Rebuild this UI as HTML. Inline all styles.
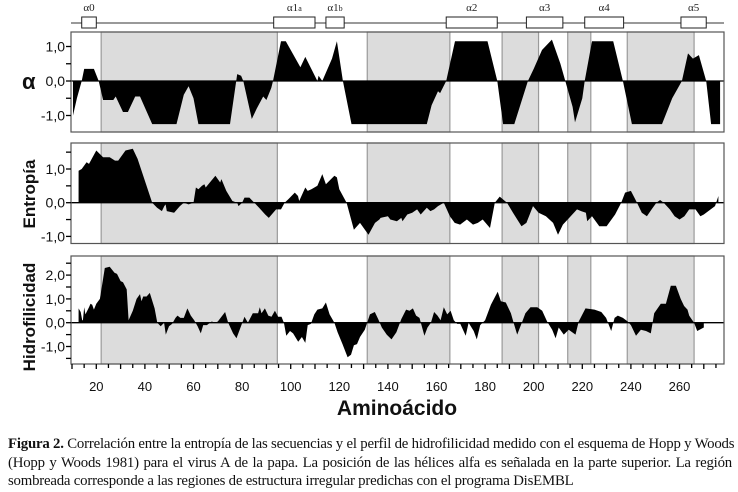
<!DOCTYPE html>
<html><head><meta charset="utf-8"><style>
body{margin:0;background:#fff;width:738px;height:492px;overflow:hidden}
#cap{position:absolute;left:8px;top:435px;width:724px;font:14.8px/18.5px "Liberation Serif",serif;color:#111;letter-spacing:-0.2px}
#cap .j{display:block;text-align:justify;text-align-last:justify;white-space:nowrap}
#cap .l{display:block;white-space:nowrap}
</style></head><body>
<svg id="chart" width="738" height="430" style="position:absolute;left:0;top:0" font-family="Liberation Sans, sans-serif"></svg>
<div id="cap"><span class="j"><b>Figura 2.</b> Correlación entre la entropía de las secuencias y el perfil de hidrofilicidad medido con el esquema de Hopp y Woods</span><span class="j">(Hopp y Woods 1981) para el virus A de la papa. La posición de las hélices alfa es señalada en la parte superior. La región</span><span class="l">sombreada corresponde a las regiones de estructura irregular predichas con el programa DisEMBL</span></div>
<script>
const xTicks=[20,40,60,80,100,120,140,160,180,200,220,240,260];
const shadedStart=[22,131.5,187,214,238.5];
const shadedEnd=[94.5,165.5,202,223.5,266];
const helixNames=["α0","α1a","α1b","α2","α3","α4","α5"];
const helixStart=[14,93,114.5,164,197,221,260.6];
const helixEnd=[20,110,122,185,212,237,271];
const alphaAA=[10.4,12,14,15,19,21,22.8,27,28,31,33,36,38,43,53,56,58,60,62,75,78,79.6,80.5,84,86,88.7,90,92,92.7,96,98,104,106,111,111.5,113,117,119,121.5,125,156,158,160.6,161.5,164,167.6,181,185,187.4,192,197.6,200,203.4,207.5,211,213,216,217,220,221,224,232.7,236.7,240.4,252.8,257,261,263.5,265.5,268,271,273,276.7];
const alphaVal=[-1.0,-0.5,0,0.35,0.35,0,-0.55,-0.55,-0.45,-0.9,-0.9,-0.45,-0.45,-1.25,-1.25,-0.4,-0.15,-0.5,-1.25,-1.25,0.2,0.15,0,-1.1,-0.8,-0.45,-0.55,-0.2,0,1.15,1.15,0.4,0.7,0,0.15,0,0.65,1.15,0,-1.25,-1.25,-0.7,-0.3,-0.35,0,1.15,1.15,0,-1.25,-1.25,0,0.35,0.9,1.2,0.5,0,-0.75,-1.2,-0.5,0,1.15,1.15,0,-1.25,-1.25,-0.5,0,0.8,0.65,0.75,0,-1.25,-1.25];
const entAA=[12.7,14,16,17,20,22.8,25.5,27.7,29,32,35,37,43,45,47,48,48.5,49,52,54.4,56,58,60,61,62,63.5,64.5,65,69,71,71.5,73.5,76,78,78.5,80,81,83,87,89.5,91,94,96,97.5,99,101.7,103,103.5,106,107,108.5,111,113,114.5,118,119,120,123,126,128.5,132,134.7,136.5,137,140,141,143.7,145.5,146,148,150,152,153.5,156,157.5,159,160.6,163,165.5,167.5,169.7,172.5,175,177,179,182,184,186,189,191.5,195,197,199.7,202,205,208,210,212,214,217.8,219.5,221.5,222,224,227,230,233.5,236,237.6,240,242.5,244.5,246.6,248.5,250.5,252,253.5,256,258,260,262,264,266.6,268.6,270,274.6,276];
const entVal=[0.95,1.0,1.2,1.15,1.55,1.35,1.35,1.25,1.25,1.55,1.6,1.3,0,-0.15,-0.25,-0.1,-0.05,-0.25,-0.3,-0.1,0,-0.05,0,0.45,0.4,0.5,0.55,0.45,0.8,0.6,0.7,0.35,0.05,0,-0.1,0,0.15,0.15,-0.15,-0.35,-0.45,-0.2,-0.2,0,0.1,0.3,0.2,0.05,0.45,0.35,0.4,0.5,0.85,0.55,0.8,0.75,0.4,0,-0.8,-0.6,-0.95,-0.6,-0.5,-0.45,-0.4,-0.5,-0.55,-0.45,-0.55,-0.35,-0.3,-0.2,-0.35,-0.15,-0.25,-0.2,-0.1,0,-0.4,-0.6,-0.65,-0.5,-0.65,-0.6,-0.5,-0.75,0,0.18,0,-0.3,-0.7,-0.6,-0.1,-0.3,-0.4,-0.6,-0.95,-0.65,-0.5,-0.2,-0.25,-0.3,-0.55,-0.4,-0.7,-0.7,-0.35,0,0.3,0.35,0,-0.3,-0.4,-0.2,0,0.08,0,-0.2,-0.4,-0.5,-0.4,-0.2,-0.2,-0.4,-0.35,-0.1,0.2,0.05];
const hydAA=[12.7,13.6,14.2,14.5,15,15.5,17,17.6,18.3,19,20,21.5,23.5,25.5,27.5,28.5,30,31,32.5,33.3,35,36.6,38,38.6,39.3,40.7,42,44,45.1,46.5,47.9,48.6,49.9,51.2,52.6,53.4,54.6,56,57.5,58.9,60.3,61.7,63,64,65.5,67.5,69,70,73,74.3,76.3,77.7,79.7,81,82.4,84.4,86.6,87.3,88,89.4,90.8,92.1,93.5,94.8,96.2,97.2,98.2,99.7,101,103.1,104.6,106,107,108.3,109.7,111,113,114.5,116,118,119.3,121.3,123.4,124.8,126,127.3,128.5,130.5,132.6,134.6,136,137.5,139.5,141.5,143.5,145.5,147.5,148.9,150.3,151.6,153,155,156.3,157.7,159,160.4,161.7,163,164.4,165.8,167.1,168.5,169.8,172,173.2,175.3,176.6,178,180,182.4,185.2,186.5,188.5,190.6,192,193.2,195.3,196.6,198.7,201.5,203.5,205.5,207.6,209,210.3,212.4,214.4,217.2,218.5,221.3,225,227.8,229.8,231.9,233.3,234.6,236.7,238.7,240,242.1,244.1,246.2,248.2,249.6,252.3,254.4,256.4,258.5,260.5,261.9,263.3,264,264.6,266,267.3,270];
const hydVal=[0.6,0.45,0.1,0.1,0.65,0.35,0.65,0.8,0.75,0.55,0.8,1.0,2.3,2.35,2.1,2.05,1.75,1.7,1.4,0.1,0.5,1.0,1.2,0.9,1.1,1.1,1.25,0.6,0,-0.15,0,-0.5,-0.15,-0.05,0.2,0.3,0.2,0.2,0.6,0.3,0.1,-0.15,-0.45,-0.1,-0.1,0.05,0,0.05,0.45,0,-0.45,-0.65,-0.1,0.25,0,0.4,0.4,0.65,0.4,0.6,0.3,0.25,0.5,0.25,0.25,0,-0.55,-0.35,-0.45,-0.8,-0.6,-0.85,-0.1,-0.05,0.35,0.55,0.6,0.85,0.35,0,-0.4,-0.9,-1.45,-1.35,-0.95,-0.9,-0.6,-0.3,0.35,0.45,0.15,-0.2,-0.5,-0.7,-0.4,0.15,0.55,0.5,0.6,0.3,0.2,-0.55,-0.2,0,0.45,0.3,0.1,0.65,0.35,0.5,0.1,-0.05,-0.05,-0.55,0,-0.35,-0.7,-0.1,0.1,0.75,1.3,0.9,0.85,0.4,-0.1,-0.5,0.05,0.4,0.65,0.65,0.5,0.05,-0.3,-0.65,-0.2,-0.5,-0.3,-0.5,0.05,0.6,0.55,0.45,0.2,-0.35,0.2,0.3,0.2,0.05,-0.1,-0.55,-0.3,-0.35,-0.45,0.4,0.8,0.8,1.55,1.55,1.0,0.7,0.55,0.3,0.2,0,-0.35,-0.2,-0.45,-0.5];

const NS="http://www.w3.org/2000/svg";
const svg=document.getElementById('chart');
const X0=71,X1=724;
const xs=v=>72+(v-10)*2.43;
function mk(tag,attrs,parent){const e=document.createElementNS(NS,tag);for(const k in attrs)e.setAttribute(k,attrs[k]);(parent||svg).appendChild(e);return e;}
const panels=[
 {name:'alpha',top:32,bot:132,zero:81,unit:34.5,aa:alphaAA,val:alphaVal,ticks:[-1,-0.5,0,0.5,1],labels:{"-1":"-1,0","0":"0,0","1":"1,0"}},
 {name:'entropy',top:143,bot:243.5,zero:202.7,unit:33.7,aa:entAA,val:entVal,ticks:[-1,-0.5,0,0.5,1,1.5],labels:{"-1":"-1,0","0":"0,0","1":"1,0"}},
 {name:'hydro',top:256,bot:364,zero:322.7,unit:23.8,aa:hydAA,val:hydVal,ticks:[-1.5,-1,-0.5,0,0.5,1,1.5,2,2.5],labels:{"-1":"-1,0","0":"0,0","1":"1,0","2":"2,0"}}
];
panels.forEach(p=>{
 const g=mk('g',{});
 
 
 const ys=v=>p.zero-v*p.unit;
 for(let i=0;i<shadedStart.length;i++){
  const r=mk('rect',{x:xs(shadedStart[i]),y:p.top,width:xs(shadedEnd[i])-xs(shadedStart[i]),height:p.bot-p.top,fill:'#dcdcdc',stroke:'#9a9a9a','stroke-width':1.2},g);
  
  
 }
 let d='M'+xs(p.aa[0])+','+p.zero;
 for(let i=0;i<p.aa.length;i++)d+=' L'+xs(p.aa[i]).toFixed(1)+','+ys(p.val[i]).toFixed(1);
 d+=' L'+xs(p.aa[p.aa.length-1])+','+p.zero+'Z';
 const a=mk('path',{d:d,fill:'#000'},g);
 
 
 mk('line',{x1:X0,x2:X1,y1:p.zero,y2:p.zero,stroke:'#000','stroke-width':1.3},g);
 mk('rect',{x:X0,y:p.top,width:X1-X0,height:p.bot-p.top,fill:'none',stroke:'#555','stroke-width':1.2},g);
 p.ticks.forEach(t=>{
  const y=ys(t);const lab=p.labels[String(t)];
  mk('line',{x1:X0-5,x2:X0,y1:y,y2:y,stroke:'#000','stroke-width':1.3},g);
  if(lab){const tx=mk('text',{x:X0-6,y:y+5,'text-anchor':'end','font-size':14,fill:'#111'},g);tx.textContent=lab;
   
   }
 });
});
for(let v=10;v<=275;v+=5){const x=xs(v);mk('line',{x1:x,x2:x,y1:364,y2:v%10==0?369:368,stroke:'#000','stroke-width':1.3});}
xTicks.forEach(v=>{const t=mk('text',{x:xs(v),y:391,'text-anchor':'middle','font-size':13,fill:'#111'});t.textContent=v;
 
 });
mk('line',{x1:X0,x2:X1,y1:23,y2:23,stroke:'#333','stroke-width':1});
for(let i=0;i<helixNames.length;i++){
 const x=xs(helixStart[i]),w=xs(helixEnd[i])-x;
 const r=mk('rect',{x:x,y:17,width:w,height:11,fill:'#fff',stroke:'#222','stroke-width':1});
 
 
 const t=mk('text',{x:x+w/2,y:11,'text-anchor':'middle','font-size':11,'font-family':'Liberation Serif, serif',fill:'#222'});
 const nm=helixNames[i];
 if(nm.length>2){t.textContent=nm.slice(0,2);const s=mk('tspan',{'font-size':8},t);s.textContent=nm.slice(2);}else t.textContent=nm;
 
 
}
let t=mk('text',{x:22,y:89,'font-size':22,'font-weight':'bold',fill:'#111'});t.textContent='α';

t=mk('text',{x:0,y:0,'font-size':17,'font-weight':'bold','text-anchor':'middle',transform:'translate(35,194) rotate(-90)',fill:'#111'});t.textContent='Entropía';

t=mk('text',{x:0,y:0,'font-size':17,'font-weight':'bold','text-anchor':'middle',transform:'translate(35,317) rotate(-90)',fill:'#111'});t.textContent='Hidrofilicidad';

t=mk('text',{x:397,y:415,'font-size':21,'font-weight':'bold','text-anchor':'middle',fill:'#111'});t.textContent='Aminoácido';

</script>
</body></html>
